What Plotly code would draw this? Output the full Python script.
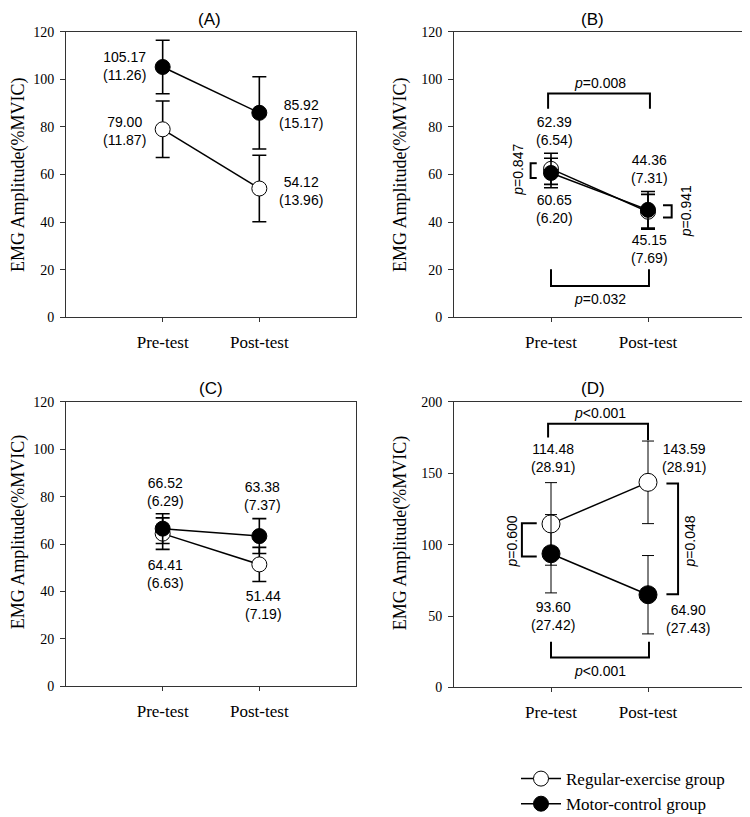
import plotly.graph_objects as go

# ---------------- data ----------------
categories = ["Pre-test", "Post-test"]
panel_titles = ["(A)", "(B)", "(C)", "(D)"]

regular_mean = {"A": [79.00, 54.12], "B": [62.39, 44.36], "C": [64.41, 51.44], "D": [114.48, 143.59]}
regular_sd   = {"A": [11.87, 13.96], "B": [6.54, 7.31],   "C": [6.63, 7.19],   "D": [28.91, 28.91]}
motor_mean   = {"A": [105.17, 85.92], "B": [60.65, 45.15], "C": [66.52, 63.38], "D": [93.60, 64.90]}
motor_sd     = {"A": [11.26, 15.17], "B": [6.20, 7.69],   "C": [6.29, 7.37],   "D": [27.42, 27.43]}

y_max = {"A": 120, "B": 120, "C": 120, "D": 200}
y_dtick = {"A": 20, "B": 20, "C": 20, "D": 50}

p_values_B = {"top": "0.008", "bottom": "0.032", "left": "0.847", "right": "0.941"}
p_values_D = {"top": "<0.001", "bottom": "<0.001", "left": "=0.600", "right": "=0.048"}

# ---------------- layout geometry ----------------
W, H = 750, 817
OFF = 8  # page body margin
def px_x(p): return (p - OFF) / W
def px_y(p): return 1 - (p - OFF) / H

domains = {
    "A": ([px_x(66), px_x(356)], [px_y(316), px_y(25)]),
    "B": ([px_x(454), px_x(745)], [px_y(316), px_y(25)]),
    "C": ([px_x(66), px_x(356)], [px_y(692), px_y(402)]),
    "D": ([px_x(454), px_x(745)], [px_y(693), px_y(402)]),
}
axis_ids = {"A": "", "B": "2", "C": "3", "D": "4"}

SERIF = "Liberation Serif, Times New Roman, serif"
SANS = "Liberation Sans, Arial, sans-serif"

fig = go.Figure()
xpos = [1, 2]

for i, k in enumerate(["A", "B", "C", "D"]):
    aid = axis_ids[k]
    msize = 18 if k == "D" else 15
    ethick = 1 if k == "D" else 1.6
    ewidth = 6 if k == "D" else 7
    fig.add_trace(go.Scatter(
        x=xpos, y=regular_mean[k], xaxis="x" + aid, yaxis="y" + aid,
        mode="lines+markers", name="Regular-exercise group",
        showlegend=(k == "A"), legendrank=1,
        line=dict(color="black", width=1.5),
        marker=dict(symbol="circle", size=msize, color="white",
                    line=dict(color="black", width=1)),
        error_y=dict(type="data", array=regular_sd[k], visible=True,
                     color="black", thickness=ethick, width=ewidth),
    ))
    fig.add_trace(go.Scatter(
        x=xpos, y=motor_mean[k], xaxis="x" + aid, yaxis="y" + aid,
        mode="lines+markers", name="Motor-control group",
        showlegend=(k == "A"), legendrank=2,
        line=dict(color="black", width=1.5),
        marker=dict(symbol="circle", size=msize, color="black",
                    line=dict(color="black", width=1)),
        error_y=dict(type="data", array=motor_sd[k], visible=True,
                     color="black", thickness=ethick, width=ewidth),
    ))

layout = dict(
    width=W, height=H, margin=dict(l=0, r=0, t=0, b=0),
    paper_bgcolor="white", plot_bgcolor="white",
    showlegend=True,
    legend=dict(x=px_x(516), y=px_y(768), xanchor="left", yanchor="top",
                font=dict(family=SERIF, size=17, color="black"),
                bgcolor="rgba(0,0,0,0)", tracegroupgap=0, itemwidth=40),
)

for k in ["A", "B", "C", "D"]:
    aid = axis_ids[k]
    xd, yd = domains[k]
    layout["xaxis" + aid] = dict(
        domain=xd, anchor="y" + aid, range=[0, 3],
        tickmode="array", tickvals=xpos, ticktext=categories,
        ticks="outside", ticklen=4, tickcolor="#333", tickwidth=1,
        showline=True, linecolor="#333", linewidth=1, mirror=True,
        showgrid=False, zeroline=False, ticklabelstandoff=5,
        tickfont=dict(family=SERIF, size=17, color="black"),
    )
    layout["yaxis" + aid] = dict(
        domain=yd, anchor="x" + aid, range=[0, y_max[k]], dtick=y_dtick[k],
        ticks="outside", ticklen=5, tickcolor="#333", tickwidth=1,
        showline=True, linecolor="#333", linewidth=1, mirror=True,
        showgrid=False, zeroline=False, ticklabelstandoff=3,
        tickfont=dict(family=SERIF, size=14, color="black"),
    )

fig.update_layout(**layout)

annotations = []
shapes = []

title_pos = {"A": (210, 13), "B": (592, 13), "C": (211, 388), "D": (593, 388)}
ytitle_pos = {"A": (18, 171), "B": (400, 171), "C": (18, 535), "D": (400, 536)}
for i, k in enumerate(["A", "B", "C", "D"]):
    tx, ty = title_pos[k]
    annotations.append(dict(text=panel_titles[i], x=px_x(tx), y=px_y(ty), xref="paper", yref="paper",
                            showarrow=False, font=dict(family=SANS, size=17, color="black"),
                            xanchor="center", yanchor="middle"))
    yx, yy = ytitle_pos[k]
    annotations.append(dict(text="EMG Amplitude(%MVIC)", x=px_x(yx), y=px_y(yy), xref="paper", yref="paper",
                            showarrow=False, textangle=-90, font=dict(family=SERIF, size=18, color="black"),
                            xanchor="center", yanchor="middle"))

def lab(mean, sd):
    return f"{mean:.2f}<br>({sd:.2f})"

def add_label(k, x, y, mean, sd):
    aid = axis_ids[k]
    annotations.append(dict(text=lab(mean, sd), x=x, y=y, xref="x" + aid, yref="y" + aid,
                            showarrow=False, font=dict(family=SANS, size=14, color="black"),
                            xanchor="center", yanchor="middle", align="center"))

add_label("A", 0.61, motor_mean["A"][0] + 0.6, motor_mean["A"][0], motor_sd["A"][0])
add_label("A", 0.61, regular_mean["A"][0] - 0.9, regular_mean["A"][0], regular_sd["A"][0])
add_label("A", 2.43, motor_mean["A"][1] - 0.3, motor_mean["A"][1], motor_sd["A"][1])
add_label("A", 2.43, regular_mean["A"][1] - 1.1, regular_mean["A"][1], regular_sd["A"][1])
add_label("B", 1.04, 78.1, regular_mean["B"][0], regular_sd["B"][0])
add_label("B", 1.04, 45.4, motor_mean["B"][0], motor_sd["B"][0])
add_label("B", 2.02, 62.5, regular_mean["B"][1], regular_sd["B"][1])
add_label("B", 2.02, 28.6, motor_mean["B"][1], motor_sd["B"][1])
add_label("C", 1.03, 82.1, motor_mean["C"][0], motor_sd["C"][0])
add_label("C", 1.03, 47.3, regular_mean["C"][0], regular_sd["C"][0])
add_label("C", 2.03, 80.2, motor_mean["C"][1], motor_sd["C"][1])
add_label("C", 2.04, 34.4, regular_mean["C"][1], regular_sd["C"][1])
add_label("D", 1.02, 160.5, regular_mean["D"][0], regular_sd["D"][0])
add_label("D", 2.37, 160.5, regular_mean["D"][1], regular_sd["D"][1])
add_label("D", 1.02, 50.3, motor_mean["D"][0], motor_sd["D"][0])
add_label("D", 2.41, 48.0, motor_mean["D"][1], motor_sd["D"][1])

def bracket(k, pts):
    aid = axis_ids[k]
    path = "M " + " L ".join(f"{x},{y}" for x, y in pts)
    shapes.append(dict(type="path", path=path, xref="x" + aid, yref="y" + aid,
                       line=dict(color="black", width=2)))

def ptext(k, x, y, txt, angle=0):
    aid = axis_ids[k]
    annotations.append(dict(text=txt, x=x, y=y, xref="x" + aid, yref="y" + aid,
                            showarrow=False, textangle=angle,
                            font=dict(family=SANS, size=14, color="black"),
                            xanchor="center", yanchor="middle"))

bracket("B", [(0.97, 87.6), (0.97, 94.0), (2.02, 94.0), (2.02, 87.6)])
ptext("B", 1.5, 98.3, "<i>p</i>=" + p_values_B["top"])
bracket("B", [(1.0, 20.2), (1.0, 13.2), (2.01, 13.2), (2.01, 20.2)])
ptext("B", 1.5, 7.9, "<i>p</i>=" + p_values_B["bottom"])
bracket("B", [(0.853, 64.7), (0.79, 64.7), (0.79, 58.5), (0.853, 58.5)])
ptext("B", 0.66, 62.0, "<i>p</i>=" + p_values_B["left"], -90)
bracket("B", [(2.155, 47.1), (2.244, 47.1), (2.244, 41.9), (2.155, 41.9)])
ptext("B", 2.40, 44.5, "<i>p</i>=" + p_values_B["right"], -90)

bracket("D", [(0.97, 175.0), (0.97, 184.6), (2.0, 184.6), (2.0, 173.0)])
ptext("D", 1.5, 192.0, "<i>p</i>" + p_values_D["top"])
bracket("D", [(1.0, 32.0), (1.0, 20.9), (2.01, 20.9), (2.01, 32.0)])
ptext("D", 1.5, 11.7, "<i>p</i>" + p_values_D["bottom"])
bracket("D", [(0.853, 115.0), (0.70, 115.0), (0.70, 91.6), (0.853, 91.6)])
ptext("D", 0.595, 102.0, "<i>p</i>" + p_values_D["left"], -90)
bracket("D", [(2.19, 142.8), (2.31, 142.8), (2.31, 65.2), (2.19, 65.2)])
ptext("D", 2.43, 102.0, "<i>p</i>" + p_values_D["right"], -90)

fig.update_layout(annotations=annotations, shapes=shapes)
fig.write_html("out.html")
